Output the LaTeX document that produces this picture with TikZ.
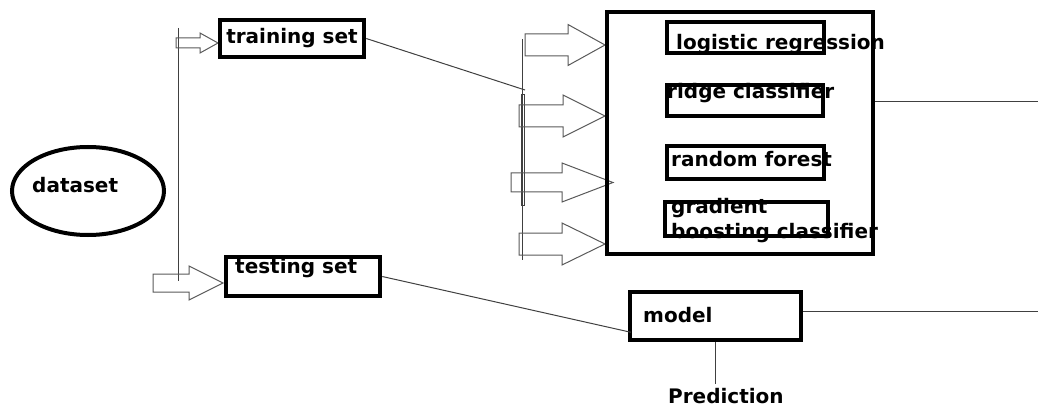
\documentclass[tikz,border=0pt]{standalone}
\usepackage{fontspec}
\setmainfont{DejaVu Sans}
\usepackage{tikz}
\usetikzlibrary{shapes,positioning}

\newcommand{\blockarrow}[6]{% x0, head base, tip x, tip y, shaft half, head half
  \draw[blockline] (#1,{#4-#5}) -- (#2,{#4-#5}) -- (#2,{#4-#6}) -- (#3,#4)
  -- (#2,{#4+#6}) -- (#2,{#4+#5}) -- (#1,{#4+#5}) -- cycle;}

\begin{document}
\begin{tikzpicture}[x=1pt,y=-1pt,
  every node/.style={font=\fontsize{20}{25}\selectfont\bfseries},
  box/.style={draw,line width=4.5pt,inner sep=0pt},
  txt/.style={inner sep=0pt,anchor=base west},
  thinline/.style={draw=black!75,line width=1pt},
  blockline/.style={draw=black!65,line width=1pt}]

  \useasboundingbox (0,0) rectangle (1038,406);

  % dataset
  \node[draw,ellipse,line width=4pt,minimum width=152pt,minimum height=88pt] (dataset) at (88,191) {};
  \node[txt] (datatxt) at (32,193) {dataset};

  % split
  \coordinate (splittop) at (178,28);
  \coordinate (splitbot) at (178,281);
  \draw[thinline] (splittop) -- (splitbot);
  \blockarrow{176}{200}{218}{43}{5}{10}
  \blockarrow{153}{189}{223}{283}{9}{17}

  \node[box,minimum width=144pt,minimum height=37pt] (train) at (292,38.5) {training set};
  \node[box,minimum width=154pt,minimum height=39pt] (test) at (303,276.5) {};
  \node[txt] (testtxt) at (235,273) {testing set};

  % models
  \coordinate (feedtop) at (522,39);
  \coordinate (feedbot) at (522,260);
  \coordinate (trainend) at (525,90);
  \draw[thinline] (feedtop) -- (feedbot);
  \draw[thinline] (521,95) rectangle (524,205);
  \draw[thinline] (train.east) -- (trainend);

  \blockarrow{525}{568}{605}{45}{11}{20.5}
  \blockarrow{519}{563}{605}{116}{11}{21}
  \blockarrow{511}{562}{613}{182.5}{9.5}{19.5}
  \blockarrow{519}{562}{605}{244}{11}{21}

  \node[txt] (lrtxt) at (676,50) {logistic regression};
  \node[txt] (rctxt) at (667,99) {ridge classifier};
  \node[txt] (rftxt) at (671,167) {random forest};
  \node[txt,align=left] (gbtxt) at (671,238) {gradient\\boosting classifier};

  \node[box,minimum width=266pt,minimum height=242pt] (big) at (740,133) {};
  \node[box,minimum width=157pt,minimum height=31pt] (lr) at (745.5,37.5) {};
  \node[box,minimum width=156pt,minimum height=31pt] (rc) at (745,100.5) {};
  \node[box,minimum width=157pt,minimum height=33pt] (rf) at (745.5,162.5) {};
  \node[box,minimum width=163pt,minimum height=34pt] (gb) at (746.5,219) {};

  \coordinate (bout) at (1038,102);
  \draw[thinline] (big.east |- bout) -- (bout);

  % model
  \node[box,minimum width=171pt,minimum height=48pt] (model) at (715.5,316) {};
  \node[txt] (modeltxt) at (643,322) {model};
  \draw[thinline] (test.east) -- ([xshift=3pt,yshift=10pt]model.south west);
  \coordinate (mout) at (1038,311);
  \draw[thinline] (model.east |- mout) -- (mout);

  \node[txt,inner sep=4pt] (pred) at (664,403) {Prediction};
  \draw[thinline] (model.south) -- (model.south |- pred.north);

\end{tikzpicture}
\end{document}
